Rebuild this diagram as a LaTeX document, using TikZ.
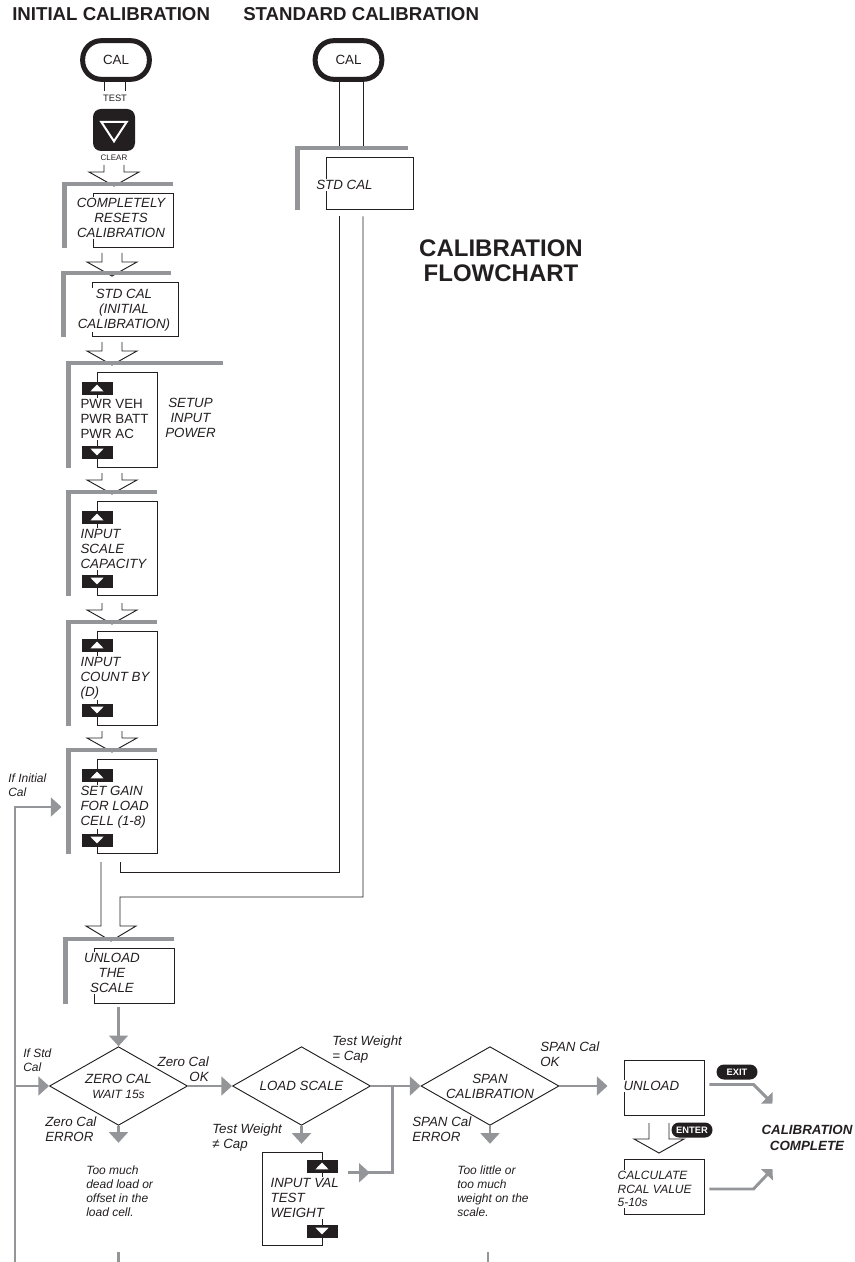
\documentclass[tikz,border=0pt]{standalone}
\usepackage{fontspec}
\setmainfont{Liberation Sans}
\usepackage{xcolor}
\usepackage{tikz}
\usetikzlibrary{arrows.meta,shapes.geometric,calc}
\definecolor{ink}{HTML}{231F20}
\definecolor{calgray}{HTML}{939598}
\newcommand{\hollowarrow}[2]{\draw[outline] ($(#1)+(-10,0)$) |- ($(#2)+(-25,-14)$) -- (#2) -- ($(#2)+(25,-14)$) -| ($(#1)+(10,0)$);}

\begin{document}
\begin{tikzpicture}[x=0.75pt, y=-0.75pt,
  every node/.style={inner sep=0pt, text=ink, font=\fontsize{10}{11.25}\selectfont},
  outline/.style={draw=ink, line width=0.7pt},
  calbar/.style={draw=calgray, line width=3.6pt},
  calbox/.style={draw=ink, line width=0.7pt, fill=white},
  boxtext/.style={fill=white, inner sep=1pt, align=center, font=\itshape\fontsize{10}{11.25}\selectfont},
  lefttext/.style={boxtext, align=left, anchor=west},
  note/.style={align=left, anchor=west, font=\itshape\fontsize{9}{10.5}\selectfont},
  tag/.style={align=left, anchor=west, font=\itshape\fontsize{10}{11.25}\selectfont},
  oval/.style={draw=ink, line width=3.75pt, rounded corners=14pt, minimum width=50pt, minimum height=29pt},
  decision/.style={shape=diamond, draw=ink, line width=0.7pt, aspect=1.75, minimum width=103.5pt, minimum height=59pt, align=center, font=\itshape\fontsize{10}{11.25}\selectfont},
  bigkey/.style={fill=ink, rounded corners=6pt, minimum size=31.5pt, path picture={\draw[white, line width=1.5pt, sharp corners] ([shift={(-9.5pt,6pt)}]path picture bounding box.center) -- ([shift={(9.5pt,6pt)}]path picture bounding box.center) -- ([shift={(0pt,-8.5pt)}]path picture bounding box.center) -- cycle;}},
  upkey/.style={fill=ink, minimum width=23.25pt, minimum height=9.75pt, path picture={\fill[white] ([shift={(-5pt,-2.6pt)}]path picture bounding box.center) -- ([shift={(5pt,-2.6pt)}]path picture bounding box.center) -- ([shift={(0pt,2.6pt)}]path picture bounding box.center) -- cycle;}},
  downkey/.style={fill=ink, minimum width=23.25pt, minimum height=9.75pt, path picture={\fill[white] ([shift={(-5pt,2.6pt)}]path picture bounding box.center) -- ([shift={(5pt,2.6pt)}]path picture bounding box.center) -- ([shift={(0pt,-2.6pt)}]path picture bounding box.center) -- cycle;}},
  pill/.style={fill=ink, text=white, rounded corners=5.6pt, minimum width=30.75pt, minimum height=11.25pt, font=\bfseries\fontsize{7}{8}\selectfont},
  flow/.style={draw=calgray, line width=2.2pt, -{Triangle[length=8pt,width=14pt]}},
  flowline/.style={draw=calgray, line width=2.2pt},
  diag/.style={draw=calgray, line width=2.2pt, -{Triangle[length=6pt,width=12pt]}}]
\useasboundingbox (0,0) rectangle (855,1262);

% headings
\node[anchor=west, font=\bfseries\fontsize{14}{16}\selectfont] (hinit) at (12,14) {INITIAL CALIBRATION};
\node[anchor=west, font=\bfseries\fontsize{14}{16}\selectfont] (hstd) at (243,14) {STANDARD CALIBRATION};
\node[align=center, font=\bfseries\fontsize{18}{19}\selectfont] (htitle) at (501,261) {CALIBRATION\\FLOWCHART};

% start keys
\node[oval] (cal1) at (116,60) {CAL};
\node[oval] (cal2) at (348.5,60) {CAL};
\node[font=\fontsize{7}{8}\selectfont] (test) at (115,98) {TEST};
\node[bigkey] (clr) at (114,130) {};
\node[font=\fontsize{6}{7}\selectfont] (clear) at (114,158) {CLEAR};
\draw[outline] ($(cal1.south)+(-12,0)$) -- ++(0,9);
\draw[outline] ($(cal1.south)+(9,0)$) -- ++(0,9);

% boxes
\node[calbox, minimum width=60pt, minimum height=40.5pt] (b1) at (133,220) {};
\node[calbox, minimum width=64.5pt, minimum height=40.5pt] (b2) at (135,309) {};
\node[calbox, minimum width=45pt, minimum height=71.25pt] (b3) at (127,419.5) {};
\node[calbox, minimum width=45pt, minimum height=70.5pt] (b4) at (127,548) {};
\node[calbox, minimum width=45pt, minimum height=70.5pt] (b5) at (127,678) {};
\node[calbox, minimum width=45pt, minimum height=70.5pt] (b6) at (127,806) {};
\node[calbox, minimum width=60pt, minimum height=41.25pt] (b7) at (134,975.5) {};
\node[calbox, minimum width=65.25pt, minimum height=39pt] (bstd) at (369.5,183) {};
\node[calbox, minimum width=45pt, minimum height=69.75pt] (inval) at (292,1198.5) {};
\node[calbox, minimum width=60pt, minimum height=41.25pt] (unload) at (664,1087.5) {};
\node[calbox, minimum width=60pt, minimum height=41.25pt] (calc) at (664,1186.5) {};

% block arrows
\foreach \x/\ya/\yb in {114/165/186, 112/253/276, 112/342/365, 112/473/494, 112/603/624, 112/731/752, 659/1123/1153}
  \hollowarrow{\x,\ya}{\x,\yb};

% standard calibration path
\coordinate (sl) at ($(bstd.south)+(-30.5,7)$);
\coordinate (sr) at ($(bstd.south)+(-6.5,7)$);
\draw[outline] (cal2.south -| sl) -- ($(sl |- bstd.north)+(0,-8)$);
\draw[outline] (cal2.south -| sr) -- ($(sr |- bstd.north)+(0,-8)$);
\draw[outline] (sl) |- (120,872) -- (120,862);
\draw[outline] (101,862) -- (101,926) -- (86,926) -- (111,941) -- (136,926) -- (120,926) -- (120,897) -| (sr);

% grey brackets
\foreach \b/\ext in {b1/0, b2/-7, b3/66, b4/0, b5/0, b6/0, b7/0, bstd/-5}
  \draw[calbar] ($(\b.north east)+(\ext,-8.5)$) -| ($(\b.south west)+(-28,1)$);

% box texts
\node[boxtext] (t1) at (121,218) {COMPLETELY\\RESETS\\CALIBRATION};
\node[boxtext] (t2) at (124,310) {STD CAL\\(INITIAL\\CALIBRATION)};
\node[lefttext, font=\fontsize{10}{11.25}\selectfont] (t3) at (79,419) {PWR VEH\\PWR BATT\\PWR AC};
\node[boxtext, fill=none] (t3s) at (190.5,418) {SETUP\\INPUT\\POWER};
\node[lefttext] (t4) at (79,549) {INPUT\\SCALE\\CAPACITY};
\node[lefttext] (t5) at (79,678) {INPUT\\COUNT BY\\(D)};
\node[lefttext] (t6) at (79,807) {SET GAIN\\FOR LOAD\\CELL (1-8)};
\node[boxtext] (t7) at (112,973) {UNLOAD\\THE\\SCALE};
\node[boxtext] (tstd) at (344.5,185) {STD CAL};
\node[lefttext] (tinval) at (269,1198) {INPUT VAL\\TEST\\WEIGHT};
\node[lefttext] (tunload) at (622,1086) {UNLOAD};
\node[lefttext, font=\itshape\fontsize{9}{10}\selectfont] (tcalc) at (616,1189) {CALCULATE\\RCAL VALUE\\5-10s};

% arrow keys
\foreach \i/\y in {3/388, 4/517, 5/645, 6/775}
  \node[upkey] (k\i u) at (97,\y) {};
\foreach \i/\y in {3/452, 4/581, 5/710, 6/840}
  \node[downkey] (k\i d) at (97,\y) {};
\node[upkey] (k7u) at (322,1166) {};
\node[downkey] (k7d) at (322,1231) {};
\node[pill] (exitkey) at (737,1072) {EXIT};
\node[pill] (enterkey) at (692,1130) {ENTER};

% decisions
\node[decision] (zero) at (118.5,1086) {ZERO CAL\\{\fontsize{9}{10}\selectfont WAIT 15s}};
\node[decision] (load) at (301.5,1086) {LOAD SCALE};
\node[decision] (span) at (490,1086) {SPAN\\CALIBRATION};
\node[align=center, font=\bfseries\itshape\fontsize{10}{11.5}\selectfont] (done) at (807,1138) {CALIBRATION\\COMPLETE};

% grey connectors
\coordinate (back) at (15,1262);
\coordinate (join) at ($(load.east)!0.43!(span.west)$);
\draw[flow] (back) |- ($(b6.west)+(-35,1)$);
\draw[flow] (back |- zero.west) -- (zero.west);
\draw[flow] ($(b7.south -| zero.north)+(0,4)$) -- (zero.north);
\draw[flow] (zero.east) -- (load.west);
\draw[flow] (load.east) -- (span.west);
\draw[flow] (span.east) -- ($(unload.west |- span.east)+(-16,0)$);
\draw[flow] (zero.south) -- ++(0,17);
\draw[flow] (load.south) -- ++(0,18);
\draw[flow] (span.south) -- ++(0,18);
\draw[flowline] ($(k7u.south east)+(10,0)$) -| (join);
\draw[flow] ($(k7u.south east)+(10,0)$) -- ++(22,0);
\draw[diag] ($(unload.east)+(5,-3)$) -- ++(44,0) -- ++(19,19);
\draw[diag] ($(calc.east)+(5,2.5)$) -- ++(44,0) -- ++(19,-20);
\foreach \x in {118.5, 488}
  \draw[flowline] (\x,1252) -- (\x,1262);

% labels
\node[note] (ifinit) at (8,785.5) {If Initial\\Cal};
\node[note] (ifstd) at (23,1060) {If Std\\Cal};
\node[tag, anchor=east, align=right] (zok) at (209,1069.5) {Zero Cal\\OK};
\node[tag] (zerr) at (45,1129.5) {Zero Cal\\ERROR};
\node[tag] (twcap) at (332,1049.5) {Test Weight\\= Cap};
\node[tag] (twne) at (212,1138) {Test Weight\\≠ Cap};
\node[tag] (sok) at (540,1054) {SPAN Cal\\OK};
\node[tag] (serr) at (412,1129) {SPAN Cal\\ERROR};
\node[note] (zwhy) at (86,1191) {Too much\\dead load or\\offset in the\\load cell.};
\node[note] (swhy) at (457,1191) {Too little or\\too much\\weight on the\\scale.};
\end{tikzpicture}
\end{document}
